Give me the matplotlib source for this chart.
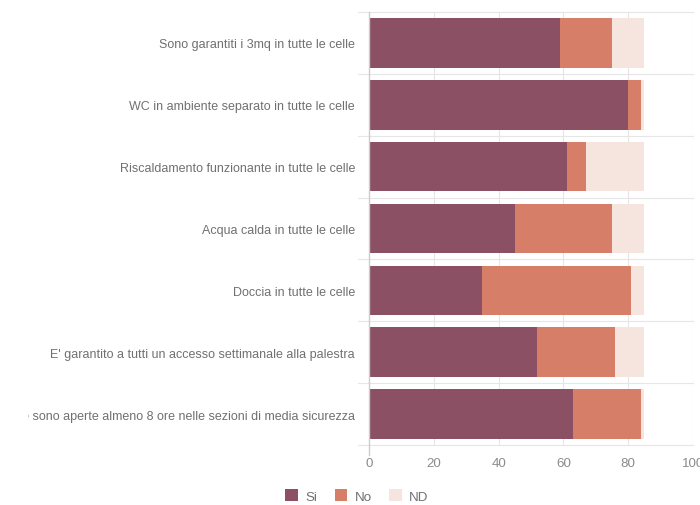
import matplotlib
matplotlib.use("Agg")
import matplotlib.pyplot as plt
from matplotlib.patches import Patch
from matplotlib.lines import Line2D
from matplotlib.transforms import Bbox, TransformedBbox
import numpy as np

plt.rcParams['font.family'] = ['Liberation Sans', 'DejaVu Sans']

categories = [
    "Sono garantiti i 3mq in tutte le celle",
    "WC in ambiente separato in tutte le celle",
    "Riscaldamento funzionante in tutte le celle",
    "Acqua calda in tutte le celle",
    "Doccia in tutte le celle",
    "E' garantito a tutti un accesso settimanale alla palestra",
    "Le celle sono aperte almeno 8 ore nelle sezioni di media sicurezza",
]
si = [59, 80, 61, 45, 35, 52, 63]
no = [16, 4, 6, 30, 46, 24, 21]
nd = [10, 1, 18, 10, 4, 9, 1]
series_names = ["Si", "No", "ND"]
xticks = [0, 20, 40, 60, 80, 100]

colors = ["#8b5063", "#d67e67", "#f6e5de"]

W, H = 700, 506
fig = plt.figure(figsize=(W / 100, H / 100), dpi=100)
ax = fig.add_axes([369 / W, 1 - 446 / H, (693 - 369) / W, (446 - 13) / H])

y = np.arange(len(categories))
si_a, no_a, nd_a = np.array(si), np.array(no), np.array(nd)
ax.barh(y, si_a, height=0.8, color=colors[0], zorder=3)
ax.barh(y, no_a, left=si_a, height=0.8, color=colors[1], zorder=3)
ax.barh(y, nd_a, left=si_a + no_a, height=0.8, color=colors[2], zorder=3)

ax.set_xlim(0, 100)
ax.set_ylim(len(categories) - 0.5, -0.5)
ax.set_xticks(xticks)
ax.set_yticks(y)
ax.set_yticklabels(categories)
ax.tick_params(axis='y', length=0, pad=10, labelsize=9.0, labelcolor="#707070")
ax.tick_params(axis='x', length=0, pad=9, labelsize=9.6, labelcolor="#8c8c8c")
for s in ax.spines.values():
    s.set_visible(False)

# clip long category labels to the label area (as in the reference)
clip = TransformedBbox(Bbox([[28 / W, 0], [1, 1]]), fig.transFigure)
for lab in ax.get_yticklabels():
    lab.set_clip_on(True)
    lab.set_clip_box(clip)

# vertical grid lines
for xt in xticks[1:]:
    ax.axvline(xt, color="#e6e6e6", lw=0.8, zorder=1)
# category boundary lines, extending slightly left of the axis
trans = ax.get_yaxis_transform()
for b in np.arange(-0.5, len(categories), 1.0):
    ax.add_line(Line2D([-0.035, 1.0], [b, b], transform=trans, color="#e6e6e6",
                       lw=0.8, clip_on=False, zorder=1))
# left axis line extended below
ax.add_line(Line2D([0, 0], [1.0, -0.022], transform=ax.transAxes, color="#cccccc",
                   lw=1.0, clip_on=False, zorder=4))

handles = [Patch(facecolor=c, edgecolor='none') for c in colors]
fig.legend(handles, series_names, loc='center', bbox_to_anchor=(357 / W, 1 - 497 / H),
           ncol=3, frameon=False, fontsize=9.6, labelcolor="#707070",
           handlelength=0.95, handleheight=0.95, handletextpad=0.55, columnspacing=1.3)

fig.savefig("out.png", dpi=100)
